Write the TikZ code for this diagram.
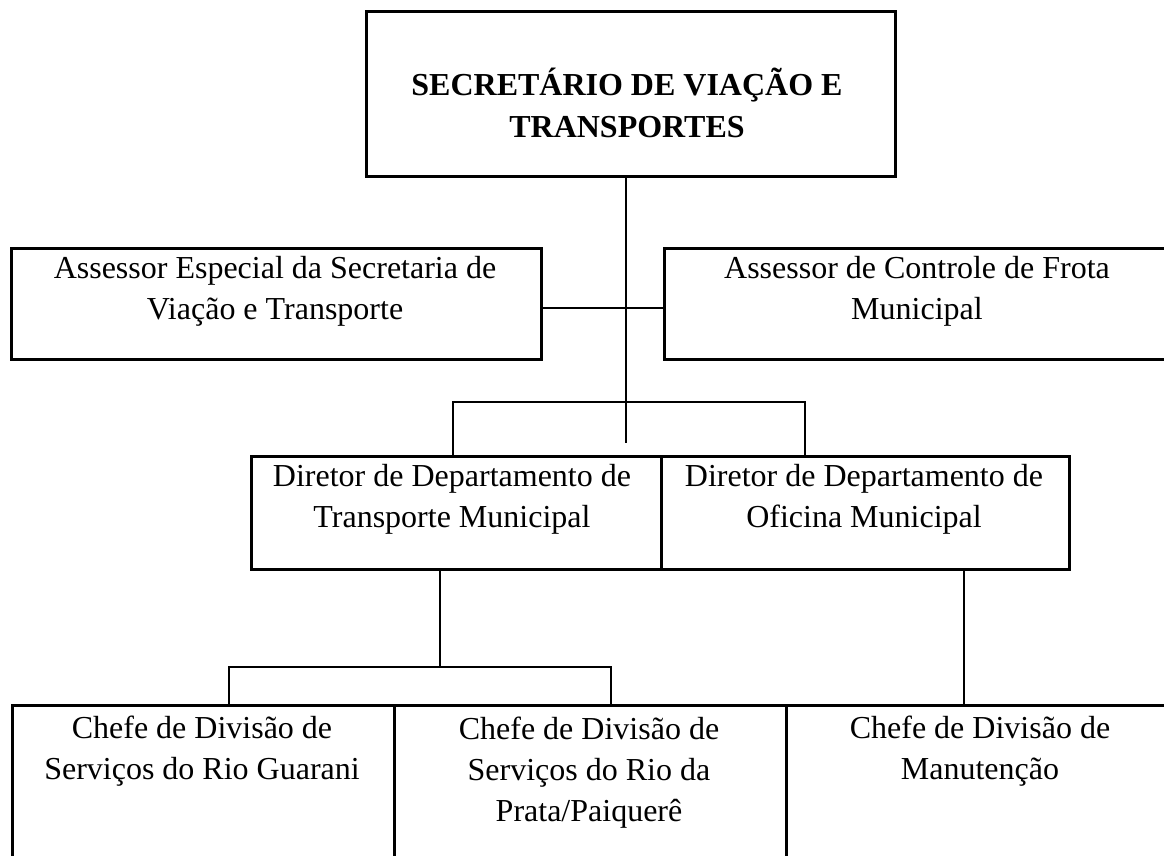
\documentclass[tikz,border=0pt]{standalone}
\usepackage{fontspec}
\setmainfont{Liberation Serif}
\begin{document}
\begin{tikzpicture}[x=1pt,y=-1pt,
  box/.style={draw=black,line width=2.8pt,inner sep=0pt},
  conn/.style={draw=black,line width=1.7pt},
  txt/.style={align=center,inner sep=0pt,font=\fontsize{32}{41}\selectfont},
  bold/.style={txt,font=\fontsize{32}{42}\selectfont\bfseries}]
\useasboundingbox (0,0) rectangle (1164,855);
\clip (0,0) rectangle (1164,855);
% boxes
\node[box,minimum width=529pt,minimum height=165pt,anchor=north west] (top) at (365,10) {};
\node[box,minimum width=530pt,minimum height=111pt,anchor=north west] (a1) at (10,247) {};
\node[box,minimum width=512pt,minimum height=111pt,anchor=north west] (a2) at (663,247) {};
\node[box,minimum width=410pt,minimum height=113pt,anchor=north west] (d1) at (250,455) {};
\node[box,minimum width=408pt,minimum height=113pt,anchor=north west] (d2) at (660,455) {};
\node[box,minimum width=382pt,minimum height=200pt,anchor=north west] (c1) at (11,704) {};
\node[box,minimum width=392pt,minimum height=200pt,anchor=north west] (c2) at (393,704) {};
\node[box,minimum width=390pt,minimum height=200pt,anchor=north west] (c3) at (785,704) {};
% texts (base anchor = baseline of last line)
\node[bold,anchor=base] (topt) at (627,137) {SECRETÁRIO DE VIAÇÃO E\\TRANSPORTES};
\node[txt,anchor=base] (a1t) at (275,319) {Assessor Especial da Secretaria de\\Viação e Transporte};
\node[txt,anchor=base] (a2t) at (917,319) {Assessor de Controle de Frota\\Municipal};
\node[txt,anchor=base] (d1t) at (452,527) {Diretor de Departamento de\\Transporte Municipal};
\node[txt,anchor=base] (d2t) at (864,527) {Diretor de Departamento de\\Oficina Municipal};
\node[txt,anchor=base] (c1t) at (202,779) {Chefe de Divisão de\\Serviços do Rio Guarani};
\node[txt,anchor=base] (c2t) at (589,821) {Chefe de Divisão de\\Serviços do Rio da\\Prata/Paiquerê};
\node[txt,anchor=base] (c3t) at (980,779) {Chefe de Divisão de\\Manutenção};
% connector coordinates
\coordinate (trunk) at (626,443);
\coordinate (amid) at (626,308);
\coordinate (bl) at (453,402);
\coordinate (br) at (805,402);
\coordinate (dl) at (440,667);
\coordinate (cl) at (229,667);
\coordinate (cr) at (611,667);
\coordinate (dr) at (964,704);
% connectors
\draw[conn] (top.south -| trunk) -- (trunk);
\draw[conn] (a1.east |- amid) -- (a2.west |- amid);
\draw[conn] (d1.north -| bl) -- (bl) -- (br) -- (d2.north -| br);
\draw[conn] (d1.south -| dl) -- (dl);
\draw[conn] (c1.north -| cl) -- (cl) -- (cr) -- (c2.north -| cr);
\draw[conn] (d2.south -| dr) -- (dr);
\end{tikzpicture}
\end{document}
